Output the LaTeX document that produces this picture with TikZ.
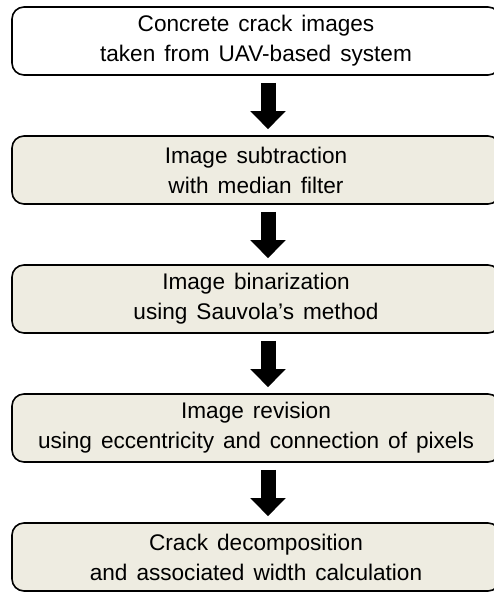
\documentclass[tikz,border=0pt]{standalone}
\usepackage{fontspec}
\setmainfont{Liberation Sans}
\usetikzlibrary{arrows.meta}

\definecolor{stepfill}{HTML}{EEECE1}
\newcommand{\stepfont}{\fontsize{22.6}{30}\selectfont\spaceskip=0.4em\relax}

\tikzset{
  stepbox/.style = {draw, line width=1.6pt, rounded corners=12pt,
    minimum width=488pt, minimum height=68pt, align=center,
    fill=stepfill, inner sep=0pt, font=\stepfont},
  flowarrow/.style = {line width=15pt,
    -{Triangle[width=34pt, length=18pt]}},
}

\begin{document}
\begin{tikzpicture}[x=1pt, y=-1pt]
  \useasboundingbox (0,0) rectangle (494,592);
  \clip (0,0) rectangle (494,592);

  % processing steps
  \node[stepbox, fill=white] (s1) at (256,41) {Concrete crack images\\taken from UAV-based system};
  \node[stepbox] (s2) at (256,170) {Image subtraction\\with median filter};
  \node[stepbox] (s3) at (256,299) {Image binarization\\using Sauvola's method};
  \node[stepbox] (s4) at (256,428) {Image revision\\using eccentricity and connection of pixels};
  \node[stepbox] (s5) at (256,557) {Crack decomposition\\and associated width calculation};

  % arrows between the steps
  \foreach \a/\b in {s1/s2, s2/s3, s3/s4, s4/s5}
    \draw[flowarrow] ([xshift=12pt, yshift=-7pt]\a.south) -- ([xshift=12pt, yshift=6pt]\b.north);
\end{tikzpicture}
\end{document}
